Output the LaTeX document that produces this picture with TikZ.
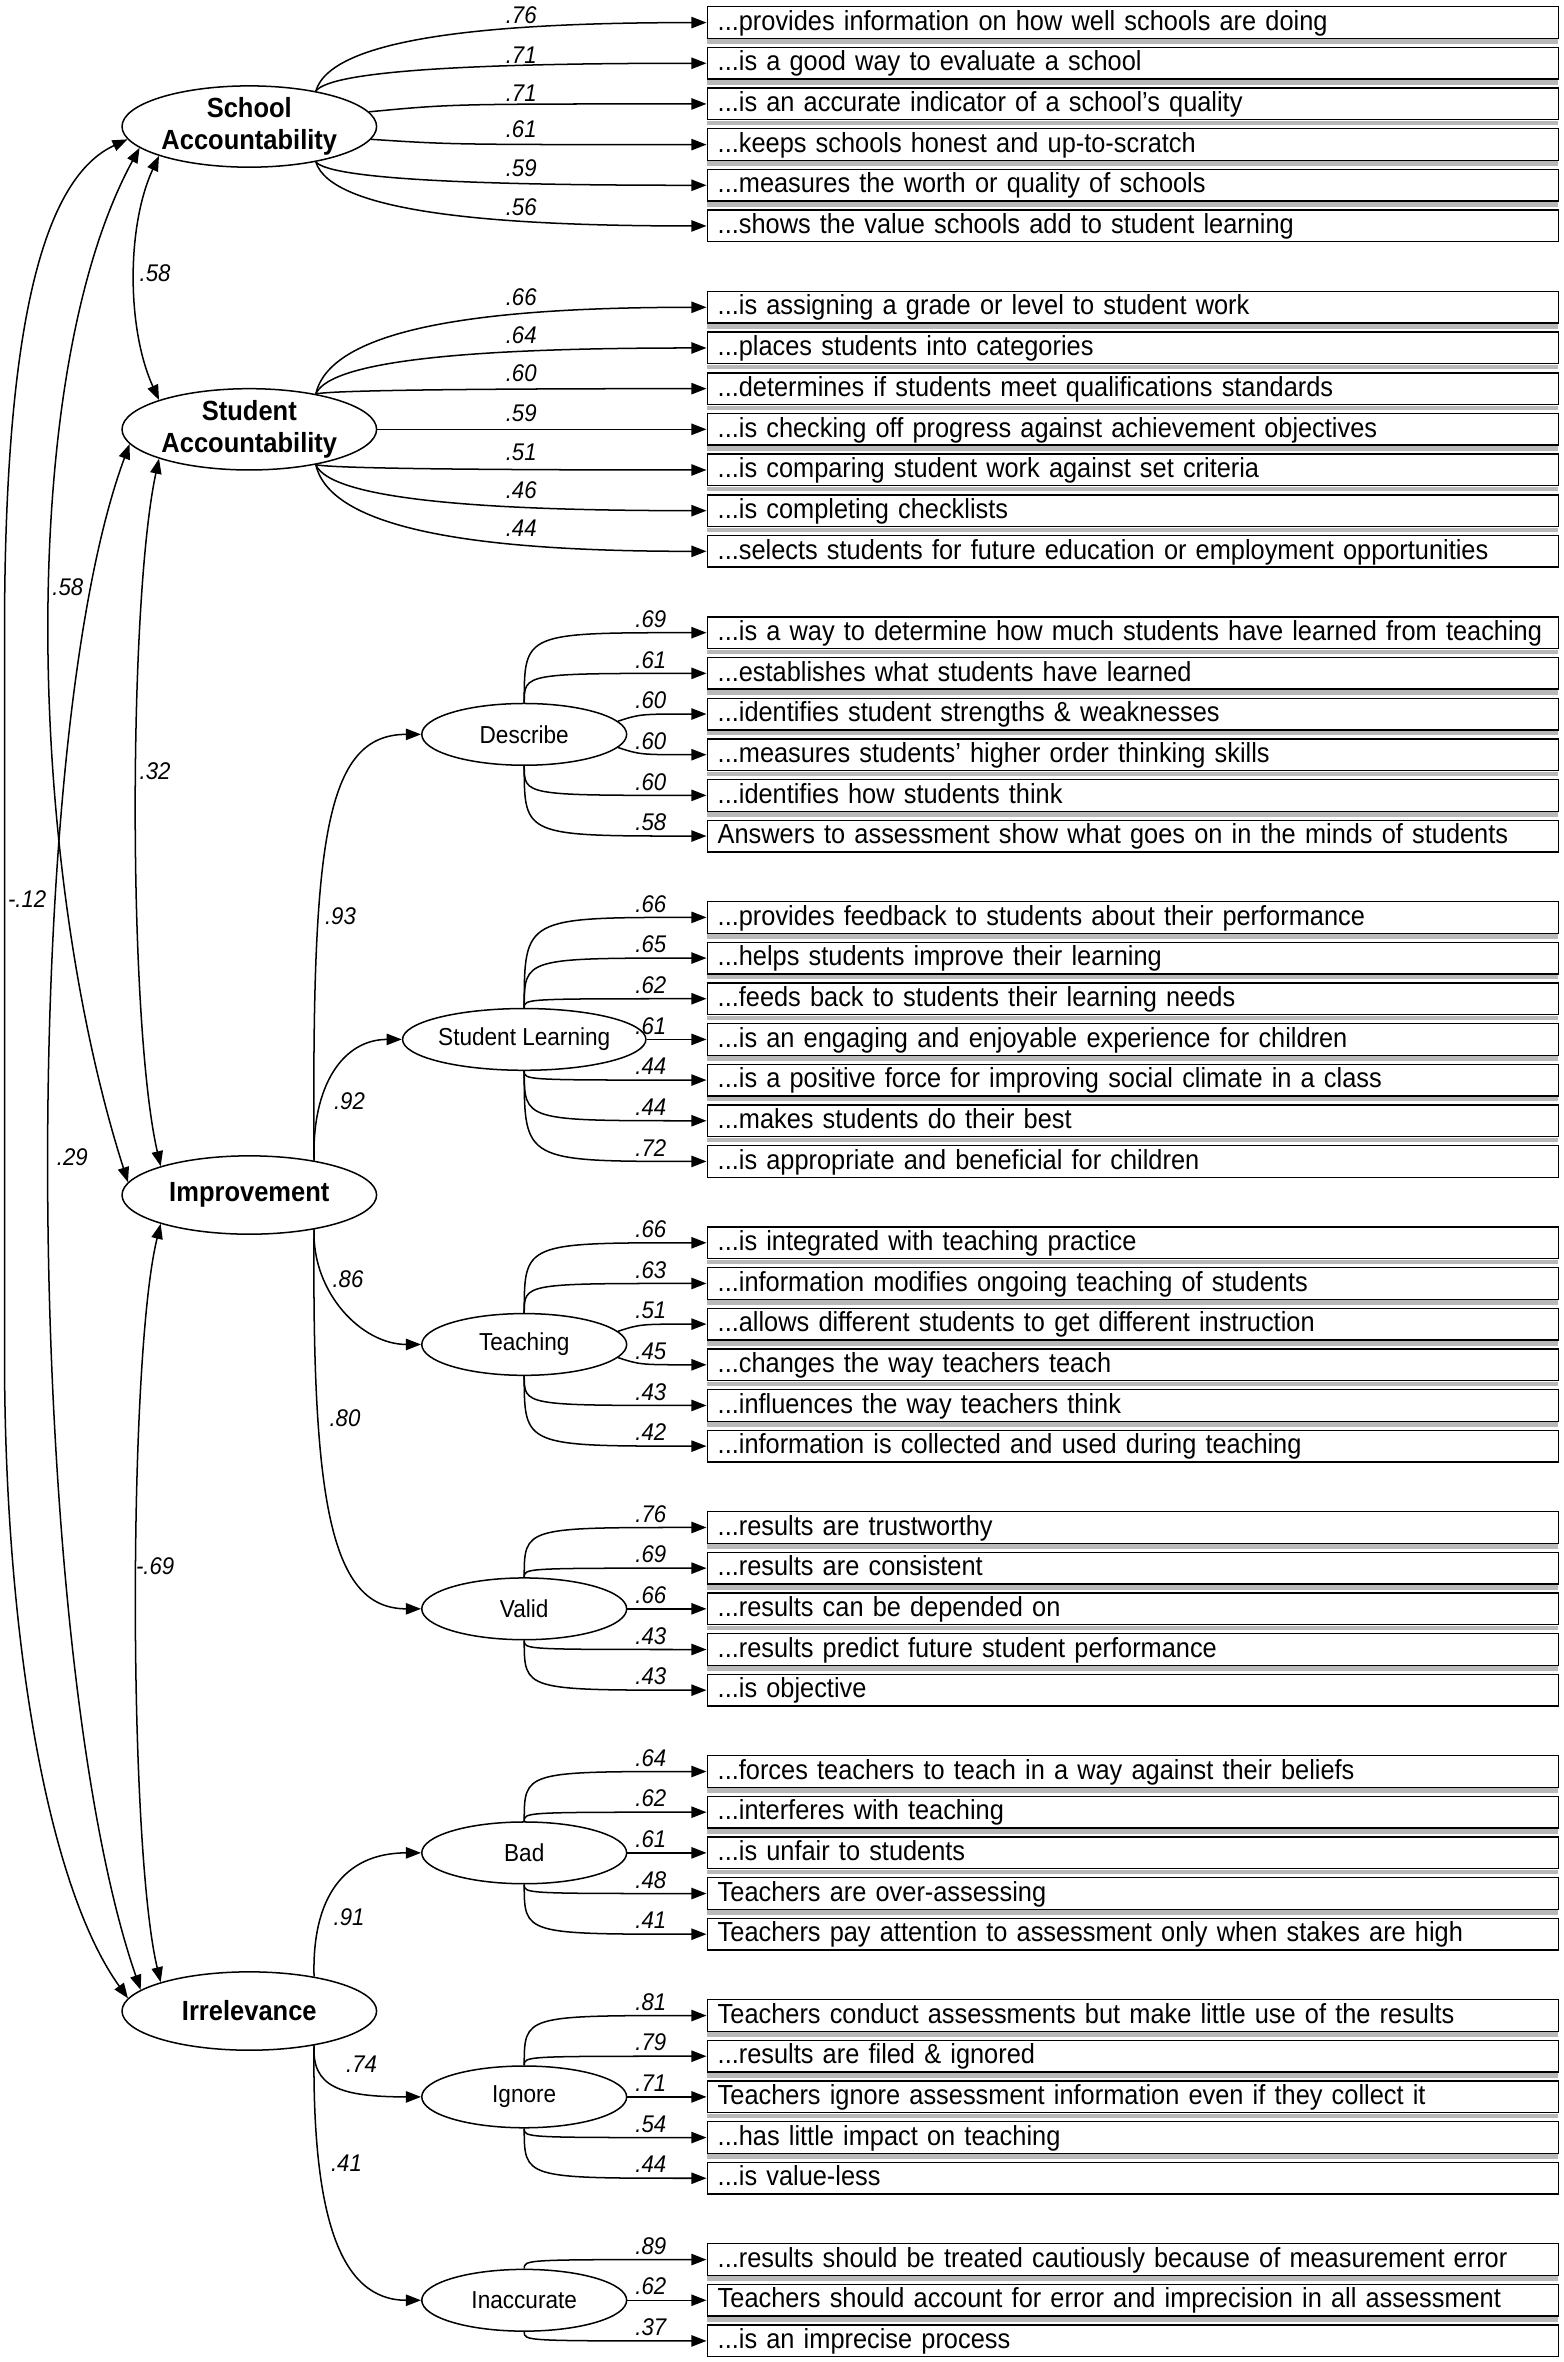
\documentclass[tikz,border=0pt]{standalone}
\usepackage{fontspec}
\setmainfont{Liberation Sans}[FakeStretch=0.92]
\usetikzlibrary{shapes.geometric,arrows.meta}
\newcommand\itm[2]{\node[itembox] (b#1) at (469,{-15-27*#1}) {\mbox{#2}};}
\newcommand\shd[1]{\fill[bandgray] (469,{-15-27*#1-11.2}) rectangle (1034,{-15-27*#1-14.2});}
\newcommand\lsub[2]{\node[lab,anchor=base] (l#1) at (432,{-15-27*#1+3.5}) {#2};}
\newcommand\ltop[3]{\node[lab,anchor=base] (l#1) at (346,-#2) {#3};}
\definecolor{bandgray}{RGB}{185,185,185}
\begin{document}
\begin{tikzpicture}[x=1pt,y=1pt,
  itembox/.style={draw,line width=0.9pt,fill=white,anchor=west,minimum height=21pt,
    text width=551pt,inner xsep=7pt,inner ysep=0pt,text height=14pt,text depth=3.8pt,
    align=left,font=\fontsize{18.3}{21}\selectfont},
  lat/.style={ellipse,draw,line width=1pt,minimum width=169pt,minimum height=52pt,
    inner sep=0pt,align=center,font=\bfseries\fontsize{18.4}{21}\selectfont},
  sub/.style={ellipse,draw,line width=1pt,minimum width=136pt,minimum height=41pt,
    inner sep=0pt,font=\fontsize{16.3}{18}\selectfont},
  lab/.style={inner sep=0pt,font=\itshape\fontsize{16}{17}\selectfont},
  ar/.style={line width=1pt,-{Triangle[length=10pt,width=7.5pt]}},
  dar/.style={line width=1pt,{Triangle[length=10pt,width=7.5pt]}-{Triangle[length=10pt,width=7.5pt]}}]
\useasboundingbox (0,0) rectangle (1038,-1568);

% ---------- latent factors ----------
\node[lat] (SA)  at (165.5,-84)    {School\\Accountability};
\node[lat] (StA) at (165.5,-285)   {Student\\Accountability};
\node[lat] (Imp) at (165.5,-793.3) {Improvement};
\node[lat] (Irr) at (165.5,-1335)  {Irrelevance};

\node[sub] (Desc)  at (348,-487.5) {Describe};
\node[sub] (SL)    at (348,-690)   {Student Learning};
\node[sub] (Teach) at (348,-892.5) {Teaching};
\node[sub] (Valid) at (348,-1068)  {Valid};
\node[sub] (Bad)   at (348,-1230)  {Bad};
\node[sub] (Ign)   at (348,-1392)  {Ignore};
\node[sub] (Inacc) at (348,-1527)  {Inaccurate};

% ---------- shadow bands ----------
\foreach \r in {0,...,4,7,8,...,12,15,16,...,19,22,23,...,27,30,31,...,34,37,38,39,40,43,44,45,46,49,50,51,52,55,56}{\shd{\r}}

% ---------- item boxes ----------
\itm{0}{...provides information on how well schools are doing}
\itm{1}{...is a good way to evaluate a school}
\itm{2}{...is an accurate indicator of a school's quality}
\itm{3}{...keeps schools honest and up-to-scratch}
\itm{4}{...measures the worth or quality of schools}
\itm{5}{...shows the value schools add to student learning}
\itm{7}{...is assigning a grade or level to student work}
\itm{8}{...places students into categories}
\itm{9}{...determines if students meet qualifications standards}
\itm{10}{...is checking off progress against achievement objectives}
\itm{11}{...is comparing student work against set criteria}
\itm{12}{...is completing checklists}
\itm{13}{...selects students for future education or employment opportunities}
\itm{15}{...is a way to determine how much students have learned from teaching}
\itm{16}{...establishes what students have learned}
\itm{17}{...identifies student strengths \& weaknesses}
\itm{18}{...measures students' higher order thinking skills}
\itm{19}{...identifies how students think}
\itm{20}{Answers to assessment show what goes on in the minds of students}
\itm{22}{...provides feedback to students about their performance}
\itm{23}{...helps students improve their learning}
\itm{24}{...feeds back to students their learning needs}
\itm{25}{...is an engaging and enjoyable experience for children}
\itm{26}{...is a positive force for improving social climate in a class}
\itm{27}{...makes students do their best}
\itm{28}{...is appropriate and beneficial for children}
\itm{30}{...is integrated with teaching practice}
\itm{31}{...information modifies ongoing teaching of students}
\itm{32}{...allows different students to get different instruction}
\itm{33}{...changes the way teachers teach}
\itm{34}{...influences the way teachers think}
\itm{35}{...information is collected and used during teaching}
\itm{37}{...results are trustworthy}
\itm{38}{...results are consistent}
\itm{39}{...results can be depended on}
\itm{40}{...results predict future student performance}
\itm{41}{...is objective}
\itm{43}{...forces teachers to teach in a way against their beliefs}
\itm{44}{...interferes with teaching}
\itm{45}{...is unfair to students}
\itm{46}{Teachers are over-assessing}
\itm{47}{Teachers pay attention to assessment only when stakes are high}
\itm{49}{Teachers conduct assessments but make little use of the results}
\itm{50}{...results are filed \& ignored}
\itm{51}{Teachers ignore assessment information even if they collect it}
\itm{52}{...has little impact on teaching}
\itm{53}{...is value-less}
\itm{55}{...results should be treated cautiously because of measurement error}
\itm{56}{Teachers should account for error and imprecision in all assessment}
\itm{57}{...is an imprecise process}

% ---------- School Accountability loadings ----------
\draw[ar] (SA.28)  .. controls (220,-24.3) and (330,-15) .. (b0.west);
\draw[ar] (SA.28)  .. controls (220,-45.9) and (330,-42) .. (b1.west);
\draw[ar] (SA.7)   .. controls (300,-69) .. (b2.west);
\draw[ar] (SA.354) .. controls (300,-96) .. (b3.west);
\draw[ar] (SA.332) .. controls (220,-119.7) and (330,-123) .. (b4.west);
\draw[ar] (SA.332) .. controls (220,-141.3) and (330,-150) .. (b5.west);
\ltop{0}{15.5}{.76}\ltop{1}{42}{.71}\ltop{2}{67.5}{.71}
\ltop{3}{91}{.61}\ltop{4}{117}{.59}\ltop{5}{143}{.56}

% ---------- Student Accountability loadings ----------
\draw[ar] (StA.28)  .. controls (220,-215.7) and (330,-204) .. (b7.west);
\draw[ar] (StA.28)  .. controls (220,-237.3) and (330,-231) .. (b8.west);
\draw[ar] (StA.28)  .. controls (220,-258.9) and (330,-258) .. (b9.west);
\draw[ar] (StA.east) -- (b10.west);
\draw[ar] (StA.332) .. controls (220,-311.1) and (330,-312) .. (b11.west);
\draw[ar] (StA.332) .. controls (220,-332.7) and (330,-339) .. (b12.west);
\draw[ar] (StA.332) .. controls (220,-354.3) and (330,-366) .. (b13.west);
\ltop{7}{202.5}{.66}\ltop{8}{228}{.64}\ltop{9}{253.4}{.60}\ltop{10}{280}{.59}
\ltop{11}{305.4}{.51}\ltop{12}{330.8}{.46}\ltop{13}{356.3}{.44}

% ---------- Describe ----------
\draw[ar] (Desc.north) .. controls (348,-420) .. (b15.west);
\draw[ar] (Desc.north) .. controls (348,-447) .. (b16.west);
\draw[ar] (Desc.8)     .. controls (425,-474) .. (b17.west);
\draw[ar] (Desc.352)   .. controls (425,-501) .. (b18.west);
\draw[ar] (Desc.south) .. controls (348,-528) .. (b19.west);
\draw[ar] (Desc.south) .. controls (348,-555) .. (b20.west);
\lsub{15}{.69}\lsub{16}{.61}\lsub{17}{.60}\lsub{18}{.60}\lsub{19}{.60}\lsub{20}{.58}

% ---------- Student Learning ----------
\draw[ar] (SL.north) .. controls (348,-609) .. (b22.west);
\draw[ar] (SL.north) .. controls (348,-636) .. (b23.west);
\draw[ar] (SL.north) .. controls (348,-663) .. (b24.west);
\draw[ar] (SL.east) -- (b25.west);
\draw[ar] (SL.south) .. controls (348,-717) .. (b26.west);
\draw[ar] (SL.south) .. controls (348,-744) .. (b27.west);
\draw[ar] (SL.south) .. controls (348,-771) .. (b28.west);
\lsub{22}{.66}\lsub{23}{.65}\lsub{24}{.62}\lsub{25}{.61}\lsub{26}{.44}\lsub{27}{.44}\lsub{28}{.72}

% ---------- Teaching ----------
\draw[ar] (Teach.north) .. controls (348,-825) .. (b30.west);
\draw[ar] (Teach.north) .. controls (348,-852) .. (b31.west);
\draw[ar] (Teach.8)     .. controls (425,-879) .. (b32.west);
\draw[ar] (Teach.352)   .. controls (425,-906) .. (b33.west);
\draw[ar] (Teach.south) .. controls (348,-933) .. (b34.west);
\draw[ar] (Teach.south) .. controls (348,-960) .. (b35.west);
\lsub{30}{.66}\lsub{31}{.63}\lsub{32}{.51}\lsub{33}{.45}\lsub{34}{.43}\lsub{35}{.42}

% ---------- Valid ----------
\draw[ar] (Valid.north) .. controls (348,-1014) .. (b37.west);
\draw[ar] (Valid.north) .. controls (348,-1041) .. (b38.west);
\draw[ar] (Valid.east) -- (b39.west);
\draw[ar] (Valid.south) .. controls (348,-1095) .. (b40.west);
\draw[ar] (Valid.south) .. controls (348,-1122) .. (b41.west);
\lsub{37}{.76}\lsub{38}{.69}\lsub{39}{.66}\lsub{40}{.43}\lsub{41}{.43}

% ---------- Bad ----------
\draw[ar] (Bad.north) .. controls (348,-1176) .. (b43.west);
\draw[ar] (Bad.north) .. controls (348,-1203) .. (b44.west);
\draw[ar] (Bad.east) -- (b45.west);
\draw[ar] (Bad.south) .. controls (348,-1257) .. (b46.west);
\draw[ar] (Bad.south) .. controls (348,-1284) .. (b47.west);
\lsub{43}{.64}\lsub{44}{.62}\lsub{45}{.61}\lsub{46}{.48}\lsub{47}{.41}

% ---------- Ignore ----------
\draw[ar] (Ign.north) .. controls (348,-1338) .. (b49.west);
\draw[ar] (Ign.north) .. controls (348,-1365) .. (b50.west);
\draw[ar] (Ign.east) -- (b51.west);
\draw[ar] (Ign.south) .. controls (348,-1419) .. (b52.west);
\draw[ar] (Ign.south) .. controls (348,-1446) .. (b53.west);
\lsub{49}{.81}\lsub{50}{.79}\lsub{51}{.71}\lsub{52}{.54}\lsub{53}{.44}

% ---------- Inaccurate ----------
\draw[ar] (Inacc.north) .. controls (348,-1500) .. (b55.west);
\draw[ar] (Inacc.east) -- (b56.west);
\draw[ar] (Inacc.south) .. controls (348,-1554) .. (b57.west);
\lsub{55}{.89}\lsub{56}{.62}\lsub{57}{.37}

% ---------- second-order paths ----------
\draw[ar] (Imp.28)  .. controls (207,-560)  and (215,-487.5) .. (Desc.west);
\draw[ar] (Imp.28)  .. controls (207,-720)  and (228,-690)   .. (SL.west);
\draw[ar] (Imp.332) .. controls (207,-858)  and (240,-892.5) .. (Teach.west);
\draw[ar] (Imp.332) .. controls (207,-1000) and (220,-1068)  .. (Valid.west);
\draw[ar] (Irr.28)  .. controls (207,-1260) and (228,-1230)  .. (Bad.west);
\draw[ar] (Irr.332) .. controls (207,-1385) and (225,-1392)  .. (Ign.west);
\draw[ar] (Irr.332) .. controls (207,-1470) and (225,-1527)  .. (Inacc.west);
\node[lab] (p93) at (226,-608)    {.93};
\node[lab] (p92) at (232,-731)    {.92};
\node[lab] (p86) at (231,-849)    {.86};
\node[lab] (p80) at (229,-941.5)  {.80};
\node[lab] (p91) at (231.7,-1273) {.91};
\node[lab] (p74) at (240,-1370)   {.74};
\node[lab] (p41) at (230,-1436)   {.41};

% ---------- correlations ----------
\draw[dar] (SA.198) .. controls (84,-150) and (84,-218) .. (StA.162);
\draw[dar] (SA.191) .. controls (10,-250) and (18,-575) .. (Imp.174);
\draw[dar] (StA.198) .. controls (85,-400) and (85,-680) .. (Imp.162);
\draw[dar] (StA.187) .. controls (10,-500) and (17,-1100) .. (Irr.169);
\draw[dar] (SA.186) .. controls (25,-120) and (3,-230) .. (3,-420) -- (3,-900)
           .. controls (3,-1080) and (30,-1250) .. (Irr.174);
\draw[dar] (Imp.198) .. controls (85,-900) and (85,-1225) .. (Irr.162);
\node[lab] (c1) at (103,-181.5) {.58};
\node[lab] (c2) at (45,-389.5)  {.58};
\node[lab] (c3) at (103,-512)   {.32};
\node[lab] (c4) at (18,-597)    {-.12};
\node[lab] (c5) at (48,-768)    {.29};
\node[lab] (c6) at (103,-1040)  {-.69};
\end{tikzpicture}
\end{document}
